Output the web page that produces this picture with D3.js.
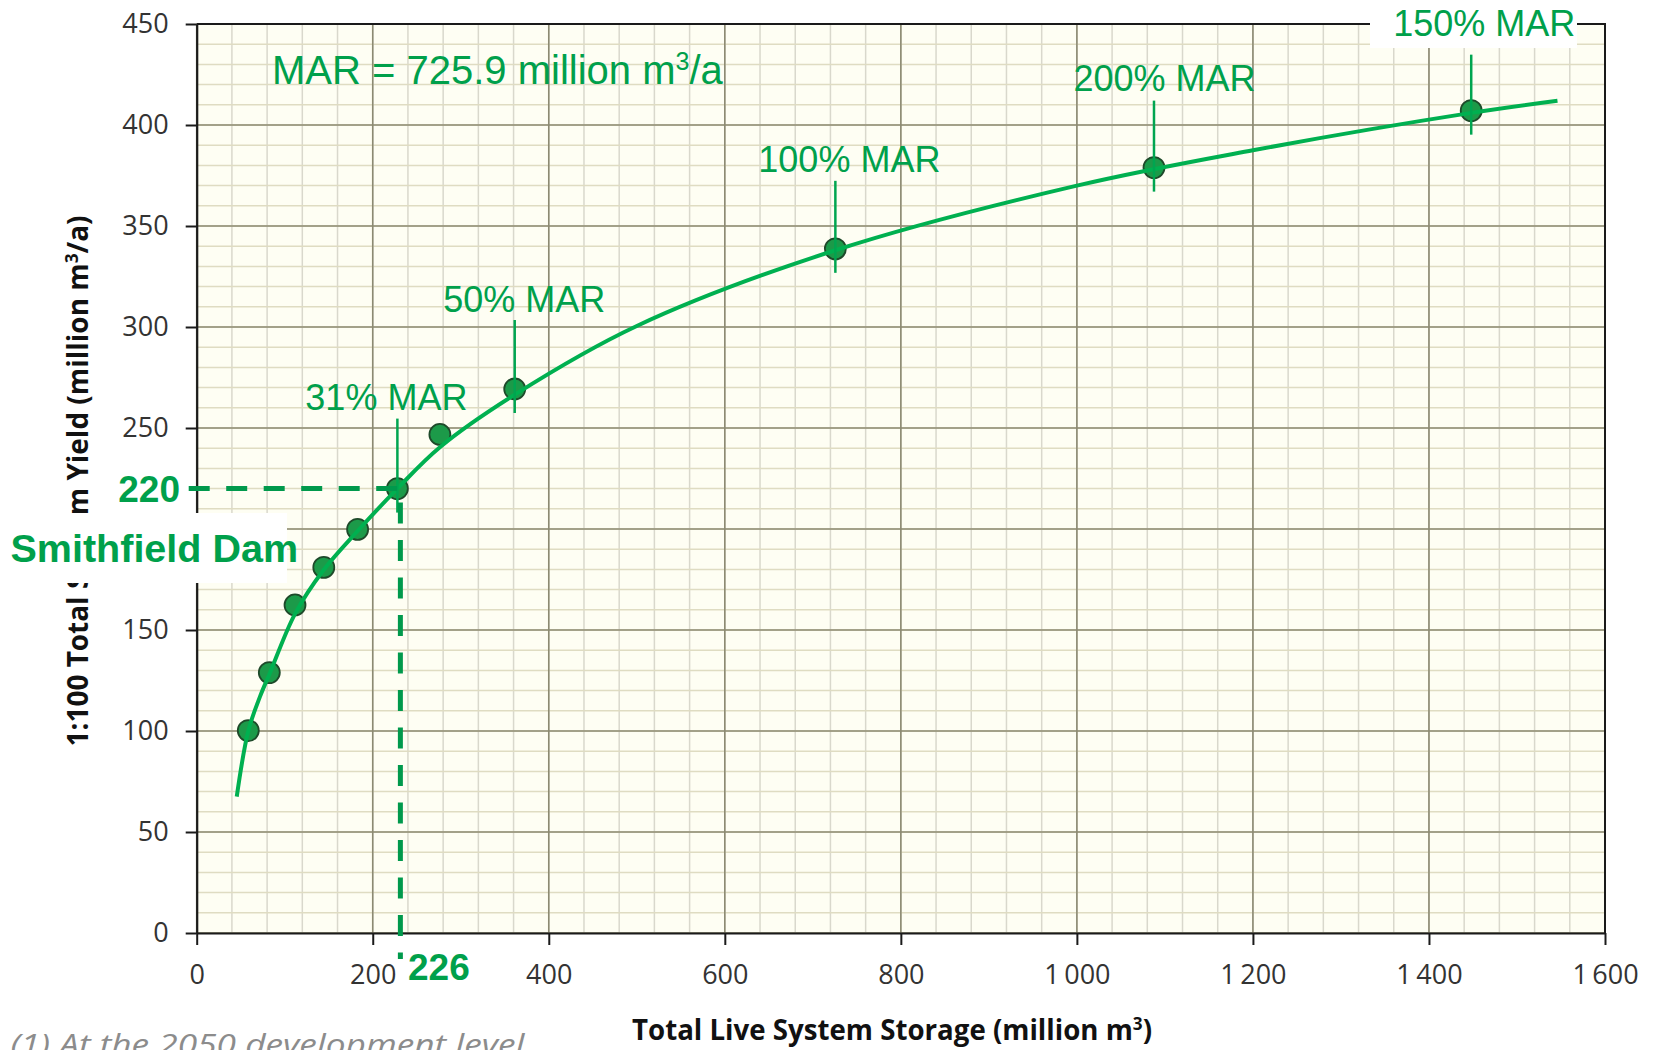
<!DOCTYPE html>
<html>
<head>
<meta charset="utf-8">
<script src="https://cdn.jsdelivr.net/npm/d3@7"></script>
<style>
  body { margin: 0; background: #fff; }
  svg { display: block; }
</style>
</head>
<body>
<svg id="chart" width="1654" height="1050"></svg>
<script>
// reservoir options (storage in million m3, 1:100 yield in million m3/a)
const storage = [58.6, 82.5, 111.7, 144.4, 182.8, 228, 276.3, 361.3, 725.6, 1087.6, 1448];
const yieldVals = [100.2, 128.9, 162.4, 181, 199.8, 220, 246.8, 269.3, 338.7, 378.9, 407.1];

// fitted curve
const curveStorage = [45.5, 58.6, 71.9, 82.5, 111.7, 144.4, 182.8, 228, 276.3, 361.3, 500, 725.6, 1000, 1200, 1448, 1546];
const curveYield = [67.5, 100, 117, 128, 158, 179.8, 199, 220, 240.5, 266.5, 300.5, 338, 370, 387.5, 406, 412];

// MAR annotations (index into the reservoir points)
const marLabels = ['31% MAR', '50% MAR', '100% MAR', '200% MAR', '150% MAR'];
const marIndex = [5, 7, 8, 9, 10];

// Smithfield Dam reading
const damStorage = 226;
const damYield = 220;

const xTicks = [0, 200, 400, 600, 800, 1000, 1200, 1400, 1600];
const xTickLabels = ['0', '200', '400', '600', '800', '1\u2009000', '1\u2009200', '1\u2009400', '1\u2009600'];
const yTicks = [0, 50, 100, 150, 200, 250, 300, 350, 400, 450];

const green = '#00a04b';
const lineGreen = '#00b050';
const svg = d3.select('#chart');

const plot = {left: 196.7, right: 1605, top: 24, bottom: 933};

const x = d3.scaleLinear().domain([0, 1600]).range([plot.left, plot.right]);
const y = d3.scaleLinear().domain([0, 450]).range([plot.bottom, plot.top]);

// background
svg.append('rect')
  .attr('x', plot.left).attr('y', plot.top)
  .attr('width', plot.right - plot.left).attr('height', plot.bottom - plot.top)
  .attr('fill', '#fefef3');

// minor grid
const grid = svg.append('g');
grid.selectAll('.vminor')
  .data(d3.range(0, 1601, 40))
  .enter().append('line')
  .attr('x1', d => x(d)).attr('x2', d => x(d))
  .attr('y1', plot.top).attr('y2', plot.bottom)
  .attr('stroke', '#d9d8cc').attr('stroke-width', 1.5);
grid.selectAll('.hminor')
  .data(d3.range(0, 451, 10))
  .enter().append('line')
  .attr('y1', d => y(d)).attr('y2', d => y(d))
  .attr('x1', plot.left).attr('x2', plot.right)
  .attr('stroke', '#dfdcc2').attr('stroke-width', 1.5);

// major grid
grid.selectAll('.vmajor')
  .data(xTicks)
  .enter().append('line')
  .attr('x1', d => x(d)).attr('x2', d => x(d))
  .attr('y1', plot.top).attr('y2', plot.bottom)
  .attr('stroke', '#8c8a72').attr('stroke-width', 1.6);
grid.selectAll('.hmajor')
  .data(yTicks)
  .enter().append('line')
  .attr('y1', d => y(d)).attr('y2', d => y(d))
  .attr('x1', plot.left).attr('x2', plot.right)
  .attr('stroke', '#8c8a72').attr('stroke-width', 1.6);

// border top / right
svg.append('path')
  .attr('d', `M${plot.left},${plot.top}H${plot.right}V${plot.bottom}`)
  .attr('fill', 'none').attr('stroke', '#1a1a1a').attr('stroke-width', 2);

// axes
const xAxis = d3.axisBottom(x)
  .tickValues(xTicks)
  .tickFormat((d, i) => xTickLabels[i])
  .tickSize(12).tickSizeOuter(0).tickPadding(20);
const yAxis = d3.axisLeft(y)
  .tickValues(yTicks)
  .tickSize(11).tickSizeOuter(0).tickPadding(17);

const gx = svg.append('g').attr('transform', `translate(0,${plot.bottom})`).call(xAxis);
const gy = svg.append('g').attr('transform', `translate(${plot.left},0)`).call(yAxis);

[gx, gy].forEach(g => {
  g.select('.domain').attr('stroke', '#1a1a1a').attr('stroke-width', 2.2);
  g.selectAll('.tick line').attr('stroke', '#1a1a1a').attr('stroke-width', 2);
  g.selectAll('.tick text')
    .attr('fill', '#333')
    .style('font-family', '"Open Sans", sans-serif')
    .style('font-size', '27px');
});

// axis titles
const xTitle = svg.append('text')
  .attr('x', 892).attr('y', 1040)
  .attr('text-anchor', 'middle')
  .attr('textLength', 520).attr('lengthAdjust', 'spacingAndGlyphs')
  .style('font-family', '"Open Sans", sans-serif')
  .style('font-weight', 'bold').style('font-size', '29px')
  .attr('fill', '#111');
xTitle.append('tspan').text('Total Live System Storage (million m');
xTitle.append('tspan').attr('dy', -10).style('font-size', '18px').text('3');
xTitle.append('tspan').attr('dy', 10).text(')');

const yTitle = svg.append('text')
  .attr('transform', 'translate(88,481) rotate(-90)')
  .attr('text-anchor', 'middle')
  .attr('textLength', 531).attr('lengthAdjust', 'spacingAndGlyphs')
  .style('font-family', '"Open Sans", sans-serif')
  .style('font-weight', 'bold').style('font-size', '29px')
  .attr('fill', '#111');
yTitle.append('tspan').text('1:100 Total System Yield (million m');
yTitle.append('tspan').attr('dy', -10).style('font-size', '18px').text('3');
yTitle.append('tspan').attr('dy', 10).text('/a)');

// footnote
svg.append('text')
  .attr('x', 10.5).attr('y', 1055)
  .attr('textLength', 514).attr('lengthAdjust', 'spacingAndGlyphs')
  .style('font-family', '"Open Sans", sans-serif')
  .style('font-style', 'italic').style('font-size', '29px')
  .attr('fill', '#8c8c8c')
  .text('(1) At the 2050 development level');

// white boxes behind labels
svg.append('rect').attr('x', 50).attr('y', 513).attr('width', 237).attr('height', 70).attr('fill', '#fff');
svg.append('rect').attr('x', 1370).attr('y', 0).attr('width', 207).attr('height', 48).attr('fill', '#fff');

// points
const points = storage.map((s, i) => ({s, v: yieldVals[i]}));
svg.append('g').selectAll('circle')
  .data(points)
  .enter().append('circle')
  .attr('cx', d => x(d.s)).attr('cy', d => y(d.v))
  .attr('r', 10.5)
  .attr('fill', '#1c9a49')
  .attr('stroke', '#1e4a2a').attr('stroke-width', 1.8);

// fitted curve
const curvePts = curveStorage.map((s, i) => [s, curveYield[i]]);
const line = d3.line()
  .x(d => x(d[0])).y(d => y(d[1]))
  .curve(d3.curveCatmullRom.alpha(0.5));
svg.append('path')
  .datum(curvePts)
  .attr('d', line)
  .attr('fill', 'none')
  .attr('stroke', lineGreen).attr('stroke-width', 4);

// MAR leaders and labels
const labelDx = [-11, 9.5, 14, 10.5, 13];
const labelRise = [79, 77, 77, 77, 75];
const leaderTop = [70, 69, 68, 67, 56];

const marks = marLabels.map((t, i) => ({t, p: points[marIndex[i]], dx: labelDx[i], rise: labelRise[i], top: leaderTop[i]}));

svg.append('g').selectAll('line')
  .data(marks)
  .enter().append('line')
  .attr('x1', d => x(d.p.s)).attr('x2', d => x(d.p.s))
  .attr('y1', d => y(d.p.v) - d.top).attr('y2', d => y(d.p.v) + 24)
  .attr('stroke', '#00a550').attr('stroke-width', 2.5);

svg.append('g').selectAll('text')
  .data(marks)
  .enter().append('text')
  .attr('x', d => x(d.p.s) + d.dx).attr('y', d => y(d.p.v) - d.rise)
  .attr('text-anchor', 'middle')
  .style('font-family', '"Liberation Sans", Arial, sans-serif')
  .style('font-size', '36px')
  .attr('fill', green)
  .text(d => d.t);

// MAR note
const marText = svg.append('text')
  .attr('x', 272).attr('y', 84)
  .style('font-family', '"Liberation Sans", Arial, sans-serif')
  .style('font-size', '40px')
  .attr('fill', green);
marText.append('tspan').text('MAR = 725.9 million m');
marText.append('tspan').attr('dy', -14).style('font-size', '25px').text('3');
marText.append('tspan').attr('dy', 14).text('/a');

// Smithfield Dam dashed guides
const guideX = x(storage[5]) + 3;
svg.append('line')
  .attr('x1', plot.left - 8).attr('x2', x(storage[5]))
  .attr('y1', y(damYield)).attr('y2', y(damYield))
  .attr('stroke', '#00994c').attr('stroke-width', 5)
  .attr('stroke-dasharray', '21,16.5');
svg.append('line')
  .attr('x1', guideX).attr('x2', guideX)
  .attr('y1', y(damYield) + 14).attr('y2', plot.bottom + 26)
  .attr('stroke', '#00994c').attr('stroke-width', 5)
  .attr('stroke-dasharray', '21,16.5');

const boldLabel = (sel) => sel
  .style('font-family', '"Liberation Sans", Arial, sans-serif')
  .style('font-weight', 'bold')
  .attr('fill', green);

svg.append('text')
  .attr('x', 180).attr('y', y(damYield) + 13)
  .attr('text-anchor', 'end')
  .style('font-size', '37px')
  .call(boldLabel)
  .text(damYield);

svg.append('text')
  .attr('x', 408).attr('y', 980)
  .style('font-size', '37px')
  .call(boldLabel)
  .text(damStorage);

svg.append('text')
  .attr('x', 10.5).attr('y', 561.5)
  .style('font-size', '39.5px')
  .call(boldLabel)
  .text('Smithfield Dam');
</script>
</body>
</html>
